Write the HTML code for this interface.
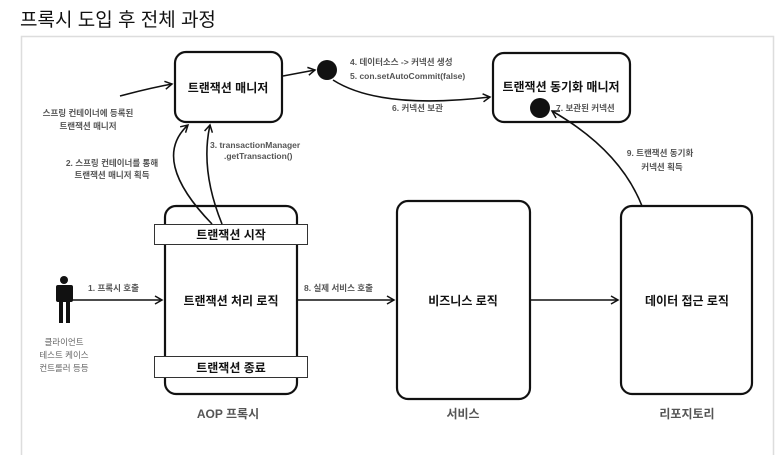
<!DOCTYPE html>
<html><head><meta charset="utf-8"><style>
body{margin:0;background:#fff;width:778px;height:455px;overflow:hidden;font-family:"Liberation Sans","Noto Sans CJK KR",sans-serif}
</style></head><body>
<svg width="778" height="455" xmlns="http://www.w3.org/2000/svg" font-family="Liberation Sans, Noto Sans CJK KR, sans-serif">
<defs><marker id="a" markerWidth="10" markerHeight="10" refX="8" refY="5" orient="auto" markerUnits="userSpaceOnUse"><path d="M1,1 L8,5 L1,9" fill="none" stroke="#111" stroke-width="1.5"/></marker></defs>
<text x="20" y="26" font-size="19" fill="#111">프록시 도입 후 전체 과정</text>
<path d="M21.5,455 V36.5 H773.5 V455" fill="none" stroke="#ddd" stroke-width="1.5"/>
<g fill="#fff" stroke="#111" stroke-width="2.2">
<rect x="175" y="52" width="107" height="70" rx="11"/>
<rect x="493" y="53" width="137" height="69" rx="11"/>
<rect x="165" y="206" width="132" height="188" rx="11"/>
<rect x="397" y="201" width="133" height="198" rx="11"/>
<rect x="621" y="206" width="131" height="188" rx="11"/>
</g>
<g fill="#fff" stroke="#333" stroke-width="1">
<rect x="154.5" y="224.5" width="153" height="20"/>
<rect x="154.5" y="356.5" width="153" height="21"/>
</g>
<g fill="#111"><circle cx="327" cy="70" r="10"/><circle cx="540" cy="108" r="10"/></g>
<g fill="none" stroke="#111" stroke-width="1.6" marker-end="url(#a)">
<path d="M120,96 Q150,88 172,84"/>
<path d="M283,76 L315,70"/>
<path d="M333,80 Q380,110 490,97"/>
<path d="M212,224 Q150,160 188,125"/>
<path d="M222,224 Q200,170 210,125"/>
<path d="M70,300 H162"/>
<path d="M297,300 H394"/>
<path d="M530,300 H618"/>
<path d="M642,206 Q620,150 552,111"/>
</g>
<!-- person -->
<g fill="#111"><circle cx="64" cy="280" r="4"/><rect x="56" y="285" width="17" height="17" rx="2"/><rect x="59" y="300" width="4" height="23"/><rect x="66" y="300" width="4" height="23"/></g>
<g font-size="12" font-weight="bold" fill="#111" text-anchor="middle">
<text x="228" y="92">트랜잭션 매니저</text>
<text x="561" y="91">트랜잭션 동기화 매니저</text>
<text x="231" y="239">트랜잭션 시작</text>
<text x="231" y="372">트랜잭션 종료</text>
<text x="231" y="305">트랜잭션 처리 로직</text>
<text x="463" y="305">비즈니스 로직</text>
<text x="687" y="305">데이터 접근 로직</text>
</g>
<g font-size="12" font-weight="bold" fill="#555" text-anchor="middle">
<text x="228" y="418">AOP 프록시</text><text x="463" y="418">서비스</text><text x="687" y="418">리포지토리</text>
</g>
<g font-size="8.5" fill="#555" font-weight="bold">
<text x="88" y="291">1. 프록시 호출</text>
<text x="304" y="291">8. 실제 서비스 호출</text>
<text x="350" y="65">4. 데이터소스 -&gt; 커넥션 생성</text>
<text x="350" y="79">5. con.setAutoCommit(false)</text>
<text x="392" y="111">6. 커넥션 보관</text>
<text x="556" y="111">7. 보관된 커넥션</text>
<text x="210" y="148">3. transactionManager</text>
<text x="224" y="159">.getTransaction()</text>
<g text-anchor="middle"><text x="88" y="116">스프링 컨테이너에 등록된</text><text x="88" y="129">트랜잭션 매니저</text>
<text x="112" y="166">2. 스프링 컨테이너를 통해</text><text x="112" y="178">트랜잭션 매니저 획득</text>
<text x="660" y="156">9. 트랜잭션 동기화</text><text x="662" y="170">커넥션 획득</text></g>
</g>
<g font-size="8.5" fill="#666" text-anchor="middle"><text x="64" y="345">클라이언트</text><text x="64" y="358">테스트 케이스</text><text x="64" y="371">컨트롤러 등등</text></g>
</svg>
</body></html>
